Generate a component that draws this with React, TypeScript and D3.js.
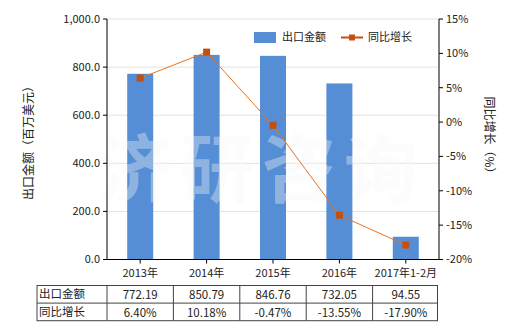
import React from "react";
import * as d3 from "d3";

const categories = ["2013年", "2014年", "2015年", "2016年", "2017年1-2月"];
const exportValues = [772.19, 850.79, 846.76, 732.05, 94.55];
const growthValues = [6.4, 10.18, -0.47, -13.55, -17.9];
const exportLabels = ["772.19", "850.79", "846.76", "732.05", "94.55"];
const growthLabels = ["6.40%", "10.18%", "-0.47%", "-13.55%", "-17.90%"];
const leftTicks = [0, 200, 400, 600, 800, 1000];
const rightTicks = [-20, -15, -10, -5, 0, 5, 10, 15];
const seriesNames = ["出口金额", "同比增长"];

const W = 520, H = 330;
const L = 107, R = 439, T = 19, B = 259.5;
const FONT = "'Noto Sans CJK SC', 'Noto Sans', sans-serif";
const BAR = "#558ED5";
const LINE = "#E8741E";
const MARK = "#C4500F";
const TXT = "#222";

export default function App() {
  const x = d3.scaleBand<string>().domain(categories).range([L, R]).paddingInner(0).paddingOuter(0);
  const yL = d3.scaleLinear().domain([0, 1000]).range([B, T]);
  const yR = d3.scaleLinear().domain([-20, 15]).range([B, T]);
  const fmtL = d3.format(",.1f");
  const bw = 26;
  const cx = (c: string) => (x(c) as number) + x.bandwidth() / 2;
  const line = d3.line<number>().x((_, i) => cx(categories[i])).y((d) => yR(d));

  const tableTop = 285.5, rowH = 17.6, tableLeft = 37;
  const colEdges = [tableLeft, ...categories.map((c) => x(c) as number), R - 1.5];

  return (
    <svg width={W} height={H} style={{ position: "absolute", left: 0, top: 0, background: "#fff" }} fontFamily={FONT}>
      {/* gridlines */}
      {leftTicks.filter((t) => t > 0).map((t) => (
        <line key={t} x1={L} x2={R} y1={yL(t)} y2={yL(t)} stroke="#e3e3dc" strokeWidth={1} />
      ))}
      {/* bars */}
      {exportValues.map((v, i) => (
        <rect key={i} x={cx(categories[i]) - bw / 2} y={yL(v)} width={bw} height={B - yL(v)} fill={BAR} />
      ))}
      {/* watermark */}
      <text x={262} y={196} textAnchor="middle" fontSize={74} fontWeight="bold" fill="rgb(248,248,248)" fillOpacity={0.36} letterSpacing={8}>济研咨询</text>
      {/* line */}
      <path d={line(growthValues) || ""} fill="none" stroke={LINE} strokeWidth={1} />
      {growthValues.map((v, i) => (
        <rect key={i} x={cx(categories[i]) - 3.5} y={yR(v) - 3.5} width={7} height={7} fill={MARK} />
      ))}
      {/* left axis */}
      <line x1={L} x2={L} y1={T} y2={B} stroke="#000" />
      {leftTicks.map((t) => (
        <g key={t}>
          <line x1={L - 4} x2={L} y1={yL(t)} y2={yL(t)} stroke="#000" />
          <text x={L - 7} y={yL(t)} dy="0.35em" textAnchor="end" fontSize={11} fill={TXT}>{fmtL(t)}</text>
        </g>
      ))}
      {/* right axis */}
      <line x1={R} x2={R} y1={T} y2={B} stroke="#000" />
      {rightTicks.map((t) => (
        <g key={t}>
          <line x1={R} x2={R + 4} y1={yR(t)} y2={yR(t)} stroke="#000" />
          <text x={R + 7} y={yR(t)} dy="0.35em" textAnchor="start" fontSize={11} fill={TXT}>{t + "%"}</text>
        </g>
      ))}
      {/* x axis */}
      <line x1={L} x2={R} y1={B} y2={B} stroke="#000" />
      {categories.map((c) => (
        <g key={c}>
          <line x1={cx(c)} x2={cx(c)} y1={B} y2={B + 4} stroke="#000" />
          <text x={cx(c)} y={277} textAnchor="middle" fontSize={11} fill={TXT}>{c}</text>
        </g>
      ))}
      {/* axis titles */}
      <text transform={`translate(33,140) rotate(-90)`} textAnchor="middle" fontSize={12} fill={TXT}>出口金额（百万美元）</text>
      <text transform={`translate(485,138) rotate(90)`} textAnchor="middle" fontSize={12} fill={TXT}>同比增长（%）</text>
      {/* legend */}
      <rect x={254} y={32} width={22} height={11} fill={BAR} />
      <text x={282} y={37.5} dy="0.35em" fontSize={11} fill={TXT}>{seriesNames[0]}</text>
      <line x1={341} x2={363} y1={37.5} y2={37.5} stroke={MARK} strokeWidth={2} />
      <rect x={349} y={34.5} width={6} height={6} fill={MARK} />
      <text x={368} y={37.5} dy="0.35em" fontSize={11} fill={TXT}>{seriesNames[1]}</text>
      {/* table */}
      <g stroke="#444" strokeWidth={1} fill="none">
        <rect x={tableLeft} y={tableTop} width={colEdges[colEdges.length - 1] - tableLeft} height={rowH * 2} />
        <line x1={tableLeft} x2={colEdges[colEdges.length - 1]} y1={tableTop + rowH} y2={tableTop + rowH} />
        {colEdges.slice(1, -1).map((e, i) => (
          <line key={i} x1={e} x2={e} y1={tableTop} y2={tableTop + rowH * 2} />
        ))}
      </g>
      <text x={tableLeft + 2} y={tableTop + rowH / 2} dy="0.35em" fontSize={11.5} fill={TXT}>{seriesNames[0]}</text>
      <text x={tableLeft + 2} y={tableTop + rowH * 1.5} dy="0.35em" fontSize={11.5} fill={TXT}>{seriesNames[1]}</text>
      {categories.map((c, i) => (
        <g key={c}>
          <text x={cx(c)} y={tableTop + rowH / 2 + 1} dy="0.35em" textAnchor="middle" fontSize={11.5} fill={TXT}>{exportLabels[i]}</text>
          <text x={cx(c)} y={tableTop + rowH * 1.5 + 1} dy="0.35em" textAnchor="middle" fontSize={11.5} fill={TXT}>{growthLabels[i]}</text>
        </g>
      ))}
    </svg>
  );
}
